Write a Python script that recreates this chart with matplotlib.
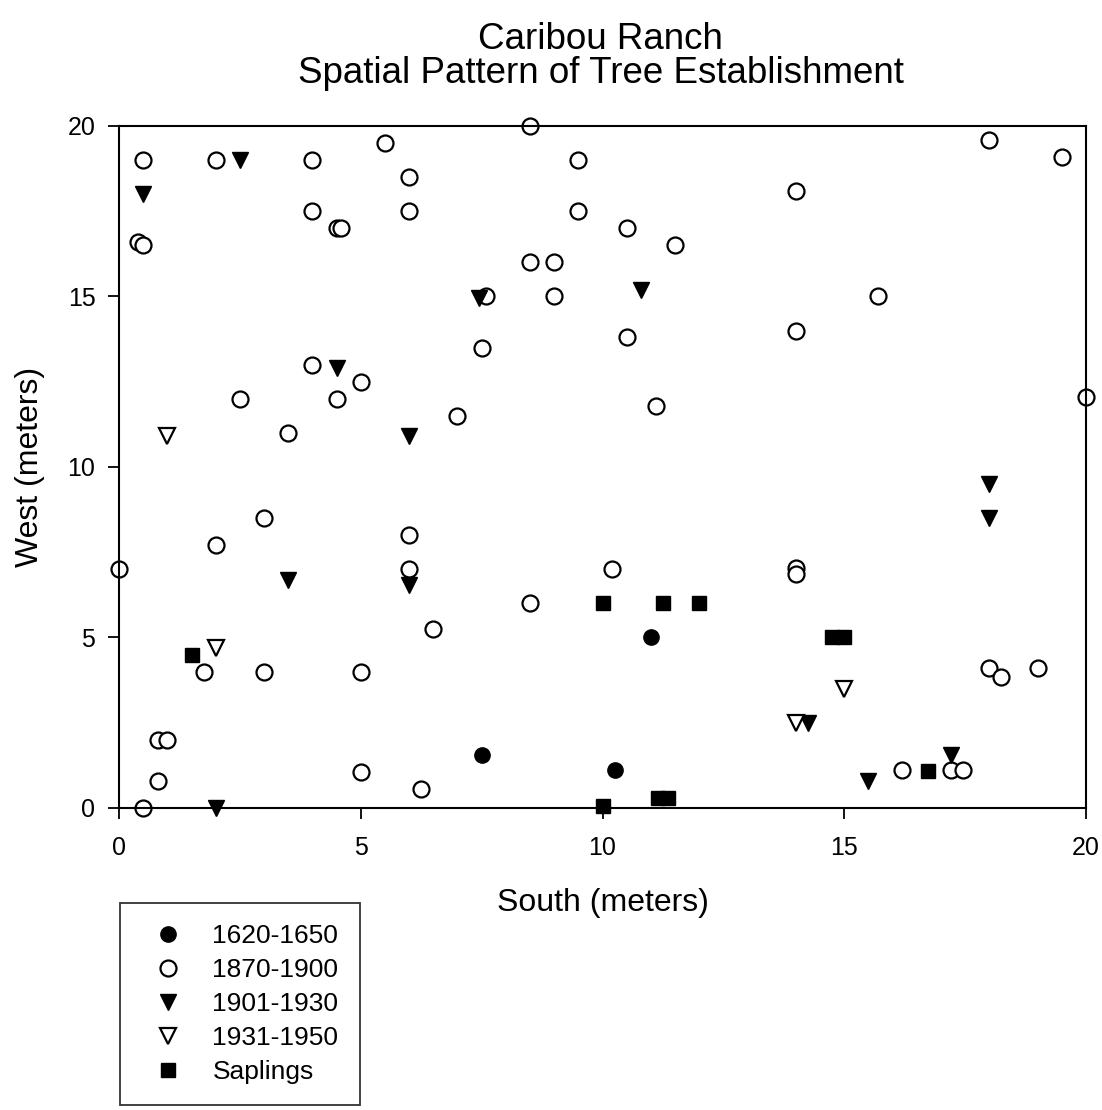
import matplotlib
matplotlib.use('Agg')
import matplotlib.pyplot as plt

plt.rcParams['font.family'] = ['Liberation Sans', 'DejaVu Sans']

# 1620-1650 (filled circles)
x_1620 = [11.0, 7.5, 10.25]
y_1620 = [5.0, 1.55, 1.1]

# 1870-1900 (open circles)
x_1870 = [0.5, 2.0, 4.0, 5.5, 8.5, 6.0, 4.0, 6.0, 4.5, 4.6, 0.4, 0.5,
          9.5, 9.5, 10.5, 11.5, 8.5, 9.0, 7.6, 9.0, 10.5, 7.5, 4.0, 5.0,
          2.5, 4.5, 7.0, 3.5, 11.1, 14.0, 18.0, 19.5, 15.7, 14.0, 20.0,
          0.0, 2.0, 3.0, 6.0, 6.0, 6.5, 1.75, 3.0, 5.0, 0.8, 1.0, 0.8,
          0.5, 5.0, 6.25, 10.2, 8.5, 14.0, 14.0, 18.0, 18.25, 19.0,
          16.2, 17.2, 17.45]
y_1870 = [19.0, 19.0, 19.0, 19.5, 20.0, 18.5, 17.5, 17.5, 17.0, 17.0, 16.6, 16.5,
          19.0, 17.5, 17.0, 16.5, 16.0, 16.0, 15.0, 15.0, 13.8, 13.5, 13.0, 12.5,
          12.0, 12.0, 11.5, 11.0, 11.8, 18.1, 19.6, 19.1, 15.0, 14.0, 12.05,
          7.0, 7.7, 8.5, 8.0, 7.0, 5.25, 4.0, 4.0, 4.0, 2.0, 2.0, 0.8,
          0.0, 1.05, 0.55, 7.0, 6.0, 7.05, 6.85, 4.1, 3.85, 4.1,
          1.1, 1.1, 1.1]

# 1901-1930 (filled down triangles)
x_1901 = [2.5, 0.5, 7.45, 10.8, 4.5, 6.0, 3.5, 6.0, 2.0, 18.0, 18.0,
          14.25, 15.5, 17.2]
y_1901 = [19.0, 18.0, 14.95, 15.2, 12.9, 10.9, 6.7, 6.55, 0.0, 9.5, 8.5,
          2.5, 0.8, 1.55]

# 1931-1950 (open down triangles)
x_1931 = [1.0, 2.0, 14.0, 15.0]
y_1931 = [10.9, 4.7, 2.5, 3.5]

# Saplings (filled squares)
x_sap = [1.5, 10.0, 11.25, 12.0, 14.75, 15.0, 10.0, 11.15, 11.35, 16.73]
y_sap = [4.5, 6.0, 6.0, 6.0, 5.0, 5.0, 0.05, 0.3, 0.3, 1.08]

fig = plt.figure(figsize=(11.02, 11.10), dpi=100)
ax = fig.add_axes([0.108, 0.2721, 0.8775, 0.6144])

ax.plot(x_1620, y_1620, 'o', ms=11, mfc='black', mec='black', ls='none',
        clip_on=False, label='1620-1650')
ax.plot(x_1870, y_1870, 'o', ms=11.5, mfc='white', mec='black', mew=1.6, ls='none',
        clip_on=False, label='1870-1900')
ax.plot(x_1901, y_1901, 'v', ms=12, mfc='black', mec='black', ls='none',
        clip_on=False, label='1901-1930')
ax.plot(x_1931, y_1931, 'v', ms=12, mfc='white', mec='black', mew=1.6, ls='none',
        clip_on=False, label='1931-1950')
ax.plot(x_sap, y_sap, 's', ms=10, mfc='black', mec='black', ls='none',
        clip_on=False, label='Saplings')

ax.set_xlim(0, 20)
ax.set_ylim(0, 20)
ax.set_xticks([0, 5, 10, 15, 20])
ax.set_yticks([0, 5, 10, 15, 20])
ax.tick_params(direction='out', length=8, width=1.3, labelsize=18)
ax.tick_params(axis='x', pad=12)
ax.tick_params(axis='y', pad=9)
for s in ax.spines.values():
    s.set_linewidth(1.5)

ax.set_xlabel('South (meters)', fontsize=23, labelpad=20)
ax.set_ylabel('West (meters)', fontsize=23, labelpad=16)
fig.text(0.545, 0.964, 'Caribou Ranch', ha='center', va='center', fontsize=26.5)
fig.text(0.545, 0.934, 'Spatial Pattern of Tree Establishment', ha='center',
         va='center', fontsize=26.5)

leg = fig.legend(loc='upper left', bbox_to_anchor=(0.109, 1 - 903 / 1110),
                 fontsize=19, frameon=True, fancybox=False, edgecolor='black',
                 borderpad=0.8, labelspacing=0.38, handletextpad=0.7,
                 borderaxespad=0)
leg.get_frame().set_linewidth(1.3)

fig.savefig('out.png', dpi=100)
